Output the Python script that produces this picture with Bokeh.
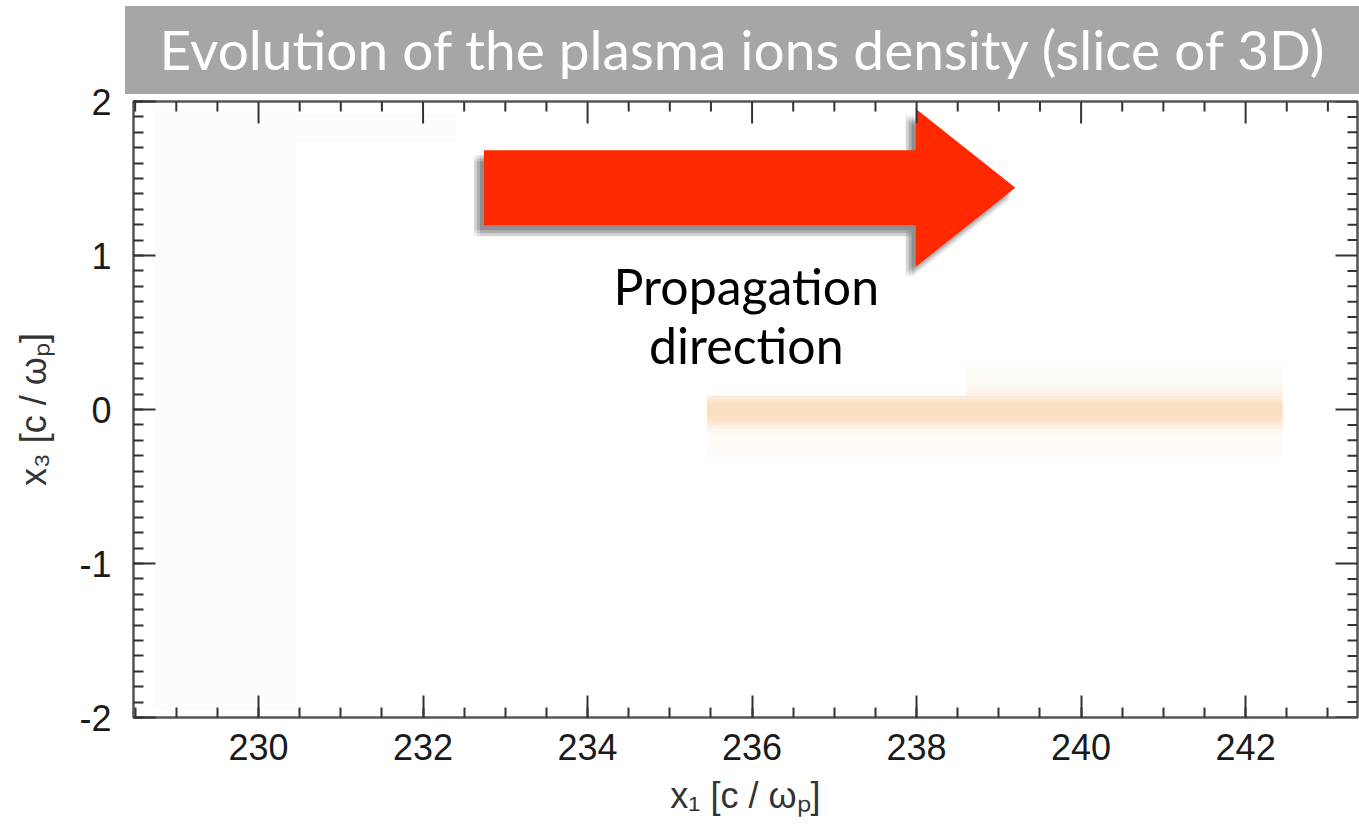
from bokeh.plotting import figure
from bokeh.layouts import column
from bokeh.models import Range1d, SingleIntervalTicker, ColumnDataSource, Div
from bokeh.core.properties import value
from bokeh.embed import file_html
from bokeh.resources import INLINE

# ---- chart data -------------------------------------------------------------
title = "Evolution of the plasma ions density (slice of 3D)"
x1_label = "x\u2081 [c / \u03c9\u209a]"
x3_label = "x\u2083 [c / \u03c9\u209a]"

x1_start, x1_end = 228.48, 243.36      # x1 [c/wp]
x3_start, x3_end = -2.0, 2.0           # x3 [c/wp]
x1_major, x1_minor_per_major = 2, 4
x3_major, x3_minor_per_major = 1, 10
x3_tick_text = {-2: "-2", -1: "-1", 0: "0", 1: "1", 2: "2"}

# ion density slab behind the driver (transverse profile, normalised)
slab_x1_start = 235.45
slab_x1_step = 238.6        # the upper fringe only reaches back to here
slab_x1_end = 242.45
slab_x3_step = 0.085
slab_x3 = [0.28, 0.26, 0.24, 0.22, 0.20, 0.18, 0.16, 0.14, 0.12, 0.10,
           0.08, 0.06, 0.04, 0.02, 0.00, -0.02, -0.04, -0.06, -0.08, -0.10,
           -0.12, -0.14, -0.16, -0.18, -0.20, -0.22, -0.24, -0.26, -0.28, -0.30]
slab_level = [0.12, 0.12, 0.12, 0.13, 0.13, 0.15, 0.19, 0.26, 0.36, 0.48,
              0.62, 0.78, 0.90, 0.97, 1.00, 1.00, 0.98, 0.92, 0.80, 0.62,
              0.44, 0.28, 0.19, 0.15, 0.13, 0.12, 0.12, 0.12, 0.12, 0.11]
slab_row = 0.02

# faint numerical noise near the box boundary
noise_left = [228.72, 228.72]
noise_right = [230.45, 232.40]
noise_bottom = [-1.95, 1.74]
noise_top = [1.95, 1.92]

# propagation arrow (x1 / x3 units)
arrow_tail = 232.74
arrow_neck = 237.99
arrow_tip = 239.20
arrow_mid = 1.44
arrow_shaft_half = 0.244
arrow_head_half = 0.513

caption_lines = ["Propagation", "direction"]
caption_x1 = 235.93
caption_x3 = [0.80, 0.42]

# ---- helpers ----------------------------------------------------------------
PEAK = (251, 223, 193)


def density_colour(t):
    r, g, b = (round(255 + (c - 255) * t) for c in PEAK)
    return "#%02x%02x%02x" % (r, g, b)


FRAME_W = 1359 - 133 - 2
FRAME_H = 616
px_x = (x1_end - x1_start) / FRAME_W
px_y = (x3_end - x3_start) / FRAME_H

# ---- main plot --------------------------------------------------------------
p = figure(width=1359, height=827,
           x_range=Range1d(x1_start, x1_end), y_range=Range1d(x3_start, x3_end),
           toolbar_location=None, output_backend="svg",
           min_border_left=133, min_border_right=2, min_border_top=101, min_border_bottom=110,
           outline_line_color="#555555", outline_line_width=2.5,
           background_fill_color="white")
p.grid.visible = False

# noise patches
p.quad(left=noise_left, right=noise_right, bottom=noise_bottom, top=noise_top,
       fill_color="#fcfcfc", line_color=None)

# density slab
rows_l, rows_r, rows_y, rows_c = [], [], [], []
for y, t in zip(slab_x3, slab_level):
    rows_l.append(slab_x1_start if y < slab_x3_step else slab_x1_step)
    rows_r.append(slab_x1_end)
    rows_y.append(y)
    rows_c.append(density_colour(t))
p.hbar(y="y", left="l", right="r", height=slab_row * 1.02, fill_color="c", line_color=None,
       source=ColumnDataSource(dict(y=rows_y, l=rows_l, r=rows_r, c=rows_c)))

# arrow with a soft drop shadow
ax = [arrow_tail, arrow_neck, arrow_neck, arrow_tip, arrow_neck, arrow_neck, arrow_tail]
ay = [arrow_mid + arrow_shaft_half, arrow_mid + arrow_shaft_half, arrow_mid + arrow_head_half,
      arrow_mid, arrow_mid - arrow_head_half, arrow_mid - arrow_shaft_half,
      arrow_mid - arrow_shaft_half]
for dx in (-10, -7, -4):
    for dy in (5, 8, 11):
        p.patch([v + dx * px_x for v in ax], [v - dy * px_y for v in ay],
                fill_color="#000000", fill_alpha=0.06, line_color=None)
p.patch(ax, ay, fill_color="#ff2800", line_color=None)

p.text(x=[caption_x1] * 2, y=caption_x3, text=caption_lines, text_color="black",
       text_font=value("Lato"), text_font_size="50px",
       text_align="center", text_baseline="alphabetic")

# ---- axes -------------------------------------------------------------------
TICK_COL = "#333333"
MAJOR_LEN, MINOR_LEN = 22, 10


def style_axis(axis, ticker):
    axis.ticker = ticker
    axis.axis_line_color = None
    axis.major_tick_line_color = TICK_COL
    axis.minor_tick_line_color = TICK_COL
    axis.major_tick_line_width = 2
    axis.minor_tick_line_width = 2
    axis.major_tick_in = MAJOR_LEN
    axis.major_tick_out = 0
    axis.minor_tick_in = MINOR_LEN
    axis.minor_tick_out = 0
    axis.major_label_text_font = "Liberation Sans"
    axis.major_label_text_font_size = "36px"
    axis.major_label_text_color = "#1a1a1a"
    axis.axis_label_text_font = "Liberation Sans"
    axis.axis_label_text_font_size = "36px"
    axis.axis_label_text_font_style = "normal"
    axis.axis_label_text_color = "#333333"


xaxis = p.xaxis[0]
style_axis(xaxis, SingleIntervalTicker(interval=x1_major, num_minor_ticks=x1_minor_per_major))
xaxis.axis_label = x1_label
xaxis.major_label_standoff = 16
xaxis.axis_label_standoff = 12

yaxis = p.yaxis[0]
style_axis(yaxis, SingleIntervalTicker(interval=x3_major, num_minor_ticks=x3_minor_per_major))
yaxis.axis_label = x3_label
yaxis.major_label_standoff = 22
yaxis.axis_label_standoff = 22
yaxis.major_label_overrides = x3_tick_text

# mirrored ticks on the top and right edges of the box
x1_step = x1_major / x1_minor_per_major
top_x, top_len = [], []
k = int(x1_start // x1_step) + 1
while k * x1_step < x1_end:
    v = round(k * x1_step, 6)
    top_x.append(v)
    top_len.append((MAJOR_LEN if v % x1_major == 0 else MINOR_LEN) * px_y)
    k += 1
p.segment(x0=top_x, x1=top_x, y0=[x3_end] * len(top_x),
          y1=[x3_end - d for d in top_len], line_color=TICK_COL, line_width=2)

x3_step = x3_major / x3_minor_per_major
right_y, right_len = [], []
n_steps = int(round((x3_end - x3_start) / x3_step))
for i in range(n_steps + 1):
    v = round(x3_start + i * x3_step, 6)
    right_y.append(v)
    right_len.append((MAJOR_LEN if abs(v - round(v)) < 1e-9 else MINOR_LEN) * px_x)
p.segment(x0=[x1_end] * len(right_y), x1=[x1_end - d for d in right_len],
          y0=right_y, y1=right_y, line_color=TICK_COL, line_width=2)

# ---- title banner, laid over the top margin of the plot --------------------
banner = Div(text=title, width=1234, height=88, margin=(6 - 827, 0, 0, 125),
             styles={"background-color": "#a6a6a6", "color": "white",
                     "font-family": "Lato", "font-size": "55px",
                     "text-align": "center", "line-height": "86px",
                     "white-space": "nowrap", "overflow": "hidden"})

layout = column(p, banner, spacing=0)
open("out.html", "w").write(file_html(layout, INLINE))
